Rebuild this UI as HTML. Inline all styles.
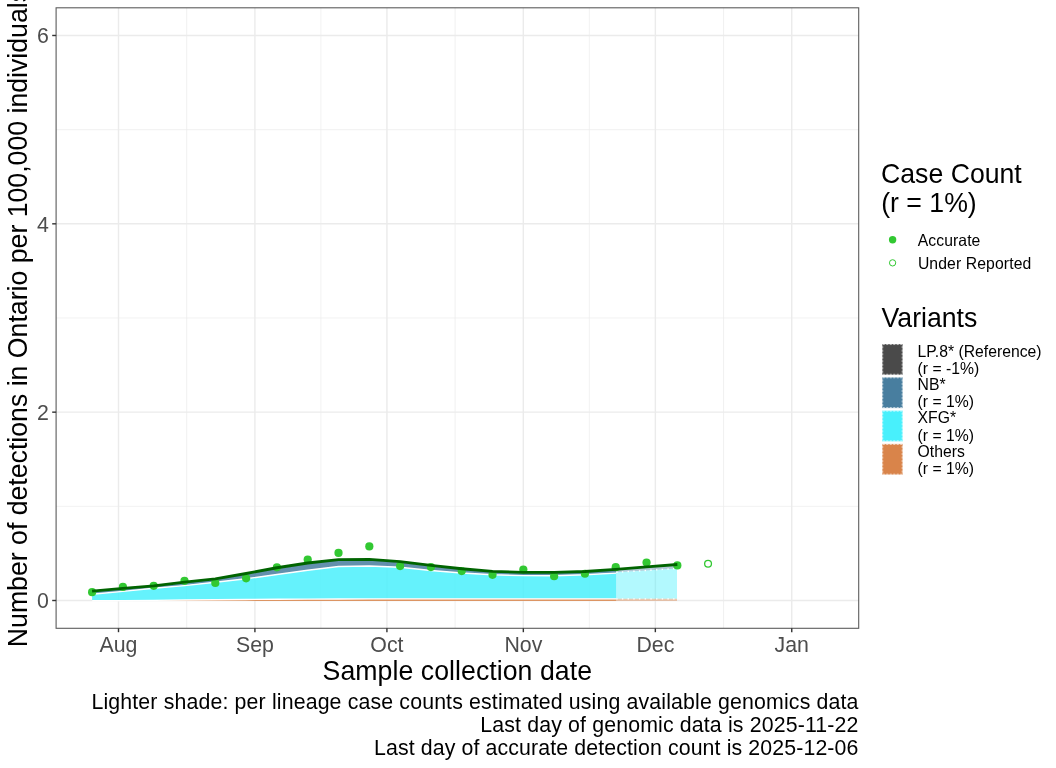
<!DOCTYPE html>
<html lang="en"><head><meta charset="utf-8"><title>Detections in Ontario</title>
<style>
html,body{margin:0;padding:0;background:#fff;}
body{width:1056px;height:768px;overflow:hidden;}
svg{display:block;font-family:"Liberation Sans", Arial, Helvetica, sans-serif;}
.ax{fill:#4d4d4d;font-size:21.33px;}
.ttl{fill:#000;font-size:26.67px;}
.cap{fill:#000;font-size:21.33px;}
.lt{fill:#000;font-size:15.75px;}
</style></head><body>
<svg width="1056" height="768" viewBox="0 0 1056 768">
<rect width="1056" height="768" fill="#fff"/>
<defs><clipPath id="pc"><rect x="56.1" y="7.8" width="802.6" height="620.5"/></clipPath>
<clipPath id="yc"><rect x="0" y="0" width="40" height="768"/></clipPath></defs>

<g clip-path="url(#pc)" fill="none">
<line x1="56.1" x2="858.7" y1="506.33" y2="506.33" stroke="#ebebeb" stroke-width="0.71"/>
<line x1="56.1" x2="858.7" y1="317.99" y2="317.99" stroke="#ebebeb" stroke-width="0.71"/>
<line x1="56.1" x2="858.7" y1="129.65" y2="129.65" stroke="#ebebeb" stroke-width="0.71"/>
<line y1="7.8" y2="628.3" x1="50.30" x2="50.30" stroke="#ebebeb" stroke-width="0.71"/>
<line y1="7.8" y2="628.3" x1="186.70" x2="186.70" stroke="#ebebeb" stroke-width="0.71"/>
<line y1="7.8" y2="628.3" x1="320.91" x2="320.91" stroke="#ebebeb" stroke-width="0.71"/>
<line y1="7.8" y2="628.3" x1="455.12" x2="455.12" stroke="#ebebeb" stroke-width="0.71"/>
<line y1="7.8" y2="628.3" x1="589.33" x2="589.33" stroke="#ebebeb" stroke-width="0.71"/>
<line y1="7.8" y2="628.3" x1="723.54" x2="723.54" stroke="#ebebeb" stroke-width="0.71"/>
<line y1="7.8" y2="628.3" x1="859.95" x2="859.95" stroke="#ebebeb" stroke-width="0.71"/>
<line x1="56.1" x2="858.7" y1="600.50" y2="600.50" stroke="#ebebeb" stroke-width="1.42"/>
<line x1="56.1" x2="858.7" y1="412.16" y2="412.16" stroke="#ebebeb" stroke-width="1.42"/>
<line x1="56.1" x2="858.7" y1="223.82" y2="223.82" stroke="#ebebeb" stroke-width="1.42"/>
<line x1="56.1" x2="858.7" y1="35.48" y2="35.48" stroke="#ebebeb" stroke-width="1.42"/>
<line y1="7.8" y2="628.3" x1="118.50" x2="118.50" stroke="#ebebeb" stroke-width="1.42"/>
<line y1="7.8" y2="628.3" x1="254.91" x2="254.91" stroke="#ebebeb" stroke-width="1.42"/>
<line y1="7.8" y2="628.3" x1="386.92" x2="386.92" stroke="#ebebeb" stroke-width="1.42"/>
<line y1="7.8" y2="628.3" x1="523.33" x2="523.33" stroke="#ebebeb" stroke-width="1.42"/>
<line y1="7.8" y2="628.3" x1="655.34" x2="655.34" stroke="#ebebeb" stroke-width="1.42"/>
<line y1="7.8" y2="628.3" x1="791.75" x2="791.75" stroke="#ebebeb" stroke-width="1.42"/>
</g>
<g clip-path="url(#pc)">
<path d="M92.10,591.06L122.90,588.40L153.70,585.80L184.50,582.10L215.31,578.90L246.11,573.50L276.91,567.75L307.71,563.00L338.51,559.60L369.32,559.30L400.12,561.70L430.92,565.40L461.72,568.75L492.53,571.30L523.33,572.30L554.13,572.40L584.93,571.50L616.20,569.30L616.20,573.10L584.93,574.80L554.13,575.70L523.33,575.60L492.53,574.80L461.72,573.00L430.92,570.50L400.12,567.30L369.32,566.00L338.51,566.50L307.71,570.20L276.91,574.50L246.11,578.75L215.31,582.30L184.50,585.60L153.70,588.30L122.90,591.40L92.10,594.20Z" fill="#457b9d" fill-opacity="0.84"/>
<path d="M92.10,591.06L122.90,588.40L153.70,585.80L184.50,582.10L215.31,578.90L246.11,573.50L276.91,567.75L307.71,563.00L338.51,559.60L369.32,559.30L400.12,561.70L430.92,565.40L461.72,568.75L492.53,571.30L523.33,572.30L554.13,572.40L584.93,571.50L616.20,569.30" fill="none" stroke="#fff" stroke-width="1.42"/>
<path d="M92.10,594.20L122.90,591.40L153.70,588.30L184.50,585.60L215.31,582.30L246.11,578.75L276.91,574.50L307.71,570.20L338.51,566.50L369.32,566.00L400.12,567.30L430.92,570.50L461.72,573.00L492.53,574.80L523.33,575.60L554.13,575.70L584.93,574.80L616.20,573.10L616.20,598.85L584.93,598.85L554.13,598.85L523.33,598.85L492.53,598.85L461.72,598.85L430.92,598.85L400.12,598.85L369.32,598.90L338.51,598.95L307.71,599.10L276.91,599.25L246.11,599.45L215.31,599.70L184.50,600.00L153.70,600.35L122.90,600.60L92.10,600.80Z" fill="#48f0fc" fill-opacity="0.84"/>
<path d="M92.10,594.20L122.90,591.40L153.70,588.30L184.50,585.60L215.31,582.30L246.11,578.75L276.91,574.50L307.71,570.20L338.51,566.50L369.32,566.00L400.12,567.30L430.92,570.50L461.72,573.00L492.53,574.80L523.33,575.60L554.13,575.70L584.93,574.80L616.20,573.10" fill="none" stroke="#fff" stroke-width="1.42"/>
<path d="M92.10,600.80L122.90,600.60L153.70,600.35L184.50,600.00L215.31,599.70L246.11,599.45L276.91,599.25L307.71,599.10L338.51,598.95L369.32,598.90L400.12,598.85L430.92,598.85L461.72,598.85L492.53,598.85L523.33,598.85L554.13,598.85L584.93,598.85L616.20,598.85L616.20,600.90L584.93,600.90L554.13,600.90L523.33,600.90L492.53,600.90L461.72,600.90L430.92,600.90L400.12,600.90L369.32,600.90L338.51,600.90L307.71,600.90L276.91,600.90L246.11,600.90L215.31,600.90L184.50,600.90L153.70,600.90L122.90,600.90L92.10,600.90Z" fill="#d9844a" fill-opacity="0.84"/>
<path d="M92.10,600.80L122.90,600.60L153.70,600.35L184.50,600.00L215.31,599.70L246.11,599.45L276.91,599.25L307.71,599.10L338.51,598.95L369.32,598.90L400.12,598.85L430.92,598.85L461.72,598.85L492.53,598.85L523.33,598.85L554.13,598.85L584.93,598.85L616.20,598.85" fill="none" stroke="#fff" stroke-width="1.42"/>
<path d="M616.20,569.30L646.54,566.80L677.00,564.50L677.00,568.50L646.54,570.50L616.20,572.30Z" fill="#457b9d" fill-opacity="0.42"/>
<path d="M616.20,569.30L646.54,566.80L677.00,564.50" fill="none" stroke="#fff" stroke-width="1.42" stroke-dasharray="1.42 4.27"/>
<path d="M616.20,572.30L646.54,570.50L677.00,568.50L677.00,598.85L646.54,598.85L616.20,598.85Z" fill="#48f0fc" fill-opacity="0.42"/>
<path d="M616.20,572.30L646.54,570.50L677.00,568.50" fill="none" stroke="#fff" stroke-width="1.42" stroke-dasharray="1.42 4.27"/>
<path d="M616.20,598.85L646.54,598.85L677.00,598.85L677.00,600.90L646.54,600.90L616.20,600.90Z" fill="#d9844a" fill-opacity="0.42"/>
<path d="M616.20,598.85L646.54,598.85L677.00,598.85" fill="none" stroke="#fff" stroke-width="1.42" stroke-dasharray="1.42 4.27"/>
</g>
<g fill="#32c832">
<circle cx="92.10" cy="592.20" r="4.1"/>
<circle cx="122.90" cy="586.90" r="4.1"/>
<circle cx="153.70" cy="585.80" r="4.1"/>
<circle cx="184.50" cy="580.85" r="4.1"/>
<circle cx="215.31" cy="582.90" r="4.1"/>
<circle cx="246.11" cy="578.30" r="4.1"/>
<circle cx="276.91" cy="567.30" r="4.1"/>
<circle cx="307.71" cy="559.50" r="4.1"/>
<circle cx="338.51" cy="552.95" r="4.1"/>
<circle cx="369.32" cy="546.45" r="4.1"/>
<circle cx="400.12" cy="566.05" r="4.1"/>
<circle cx="430.92" cy="567.10" r="4.1"/>
<circle cx="461.72" cy="571.10" r="4.1"/>
<circle cx="492.53" cy="574.80" r="4.1"/>
<circle cx="523.33" cy="569.60" r="4.1"/>
<circle cx="554.13" cy="576.25" r="4.1"/>
<circle cx="584.93" cy="573.75" r="4.1"/>
<circle cx="615.73" cy="567.15" r="4.1"/>
<circle cx="646.54" cy="562.50" r="4.1"/>
<circle cx="677.34" cy="565.40" r="4.1"/>
</g>
<circle cx="708.05" cy="563.8" r="3.4" fill="none" stroke="#32c832" stroke-width="1.3"/>
<path d="M92.10,591.06L122.90,588.40L153.70,585.80L184.50,582.10L215.31,578.90L246.11,573.50L276.91,567.75L307.71,563.00L338.51,559.60L369.32,559.30L400.12,561.70L430.92,565.40L461.72,568.75L492.53,571.30L523.33,572.30L554.13,572.40L584.93,571.50L615.73,569.30L646.54,566.80L677.34,564.50" fill="none" stroke="#006400" stroke-width="2.85" stroke-linejoin="round"/>
<rect x="56.1" y="7.8" width="802.60" height="620.50" fill="none" stroke="#333" stroke-width="1.1" stroke-opacity="0.8"/>
<g stroke="#333" stroke-width="1.42">
<line x1="118.50" x2="118.50" y1="628.3" y2="632.20"/>
<line x1="254.91" x2="254.91" y1="628.3" y2="632.20"/>
<line x1="386.92" x2="386.92" y1="628.3" y2="632.20"/>
<line x1="523.33" x2="523.33" y1="628.3" y2="632.20"/>
<line x1="655.34" x2="655.34" y1="628.3" y2="632.20"/>
<line x1="791.75" x2="791.75" y1="628.3" y2="632.20"/>
<line x1="52.20" x2="56.1" y1="600.50" y2="600.50"/>
<line x1="52.20" x2="56.1" y1="412.16" y2="412.16"/>
<line x1="52.20" x2="56.1" y1="223.82" y2="223.82"/>
<line x1="52.20" x2="56.1" y1="35.48" y2="35.48"/>
</g>
<text class="ax" transform="translate(118.50,651.6) scale(1,1.06)" text-anchor="middle">Aug</text>
<text class="ax" transform="translate(254.91,651.6) scale(1,1.06)" text-anchor="middle">Sep</text>
<text class="ax" transform="translate(386.92,651.6) scale(1,1.06)" text-anchor="middle">Oct</text>
<text class="ax" transform="translate(523.33,651.6) scale(1,1.06)" text-anchor="middle">Nov</text>
<text class="ax" transform="translate(655.34,651.6) scale(1,1.06)" text-anchor="middle">Dec</text>
<text class="ax" transform="translate(791.75,651.6) scale(1,1.06)" text-anchor="middle">Jan</text>
<text class="ax" transform="translate(48.9,608.40) scale(1,1.06)" text-anchor="end">0</text>
<text class="ax" transform="translate(48.9,420.06) scale(1,1.06)" text-anchor="end">2</text>
<text class="ax" transform="translate(48.9,231.72) scale(1,1.06)" text-anchor="end">4</text>
<text class="ax" transform="translate(48.9,43.38) scale(1,1.06)" text-anchor="end">6</text>
<text class="ttl" transform="translate(457.3,679.7) scale(1,1.06)" text-anchor="middle" textLength="269.5" lengthAdjust="spacing">Sample collection date</text>
<g clip-path="url(#yc)"><text class="ttl" transform="translate(27.2,318.1) rotate(-90) scale(1,1.06)" text-anchor="middle" textLength="658.2" lengthAdjust="spacing">Number of detections in Ontario per 100,000 individuals</text></g>
<text class="cap" transform="translate(858.4,709.0) scale(1,1.06)" text-anchor="end" textLength="767.0" lengthAdjust="spacing">Lighter shade: per lineage case counts estimated using available genomics data</text>
<text class="cap" transform="translate(858.4,732.4) scale(1,1.06)" text-anchor="end" textLength="378.1" lengthAdjust="spacing">Last day of genomic data is 2025-11-22</text>
<text class="cap" transform="translate(858.4,755.4) scale(1,1.06)" text-anchor="end" textLength="484.4" lengthAdjust="spacing">Last day of accurate detection count is 2025-12-06</text>
<text class="ttl" transform="translate(881.0,183.2) scale(1,1.06)">Case Count</text>
<text class="ttl" transform="translate(881.2,212.1) scale(1,1.06)">(r = 1%)</text>
<circle cx="892.6" cy="239.8" r="3.7" fill="#32c832"/>
<circle cx="892.6" cy="262.85" r="3.15" fill="none" stroke="#32c832" stroke-width="1.0"/>
<text class="lt" transform="translate(917.7,245.7) scale(1,1.06)" textLength="62.7" lengthAdjust="spacing">Accurate</text>
<text class="lt" transform="translate(917.9,268.6) scale(1,1.06)" textLength="113.4" lengthAdjust="spacing">Under Reported</text>
<text class="ttl" transform="translate(881.5,326.5) scale(1,1.06)">Variants</text>
<rect x="882.2" y="344.00" width="20.5" height="30.8" fill="#4a4a4a" fill-opacity="0.8"/>
<rect x="882.9" y="344.70" width="19.1" height="29.4" fill="#4a4a4a"/>
<rect x="882.75" y="344.55" width="19.4" height="29.7" fill="none" stroke="#fff" stroke-width="0.6" stroke-dasharray="2 1.5"/>
<text class="lt" transform="translate(917.6,356.6) scale(1,1.06)">LP.8* (Reference)</text>
<text class="lt" transform="translate(917.6,374.1) scale(1,1.06)">(r = -1%)</text>
<rect x="882.2" y="377.30" width="20.5" height="30.8" fill="#487e9f" fill-opacity="0.8"/>
<rect x="882.9" y="378.00" width="19.1" height="29.4" fill="#487e9f"/>
<rect x="882.75" y="377.85" width="19.4" height="29.7" fill="none" stroke="#fff" stroke-width="0.6" stroke-dasharray="2 1.5"/>
<text class="lt" transform="translate(917.6,389.9) scale(1,1.06)">NB*</text>
<text class="lt" transform="translate(917.6,407.4) scale(1,1.06)">(r = 1%)</text>
<rect x="882.2" y="410.60" width="20.5" height="30.8" fill="#48f0fc" fill-opacity="0.8"/>
<rect x="882.9" y="411.30" width="19.1" height="29.4" fill="#48f0fc"/>
<rect x="882.75" y="411.15" width="19.4" height="29.7" fill="none" stroke="#fff" stroke-width="0.6" stroke-dasharray="2 1.5"/>
<text class="lt" transform="translate(917.6,423.2) scale(1,1.06)">XFG*</text>
<text class="lt" transform="translate(917.6,440.7) scale(1,1.06)">(r = 1%)</text>
<rect x="882.2" y="443.90" width="20.5" height="30.8" fill="#d9844a" fill-opacity="0.8"/>
<rect x="882.9" y="444.60" width="19.1" height="29.4" fill="#d9844a"/>
<rect x="882.75" y="444.45" width="19.4" height="29.7" fill="none" stroke="#fff" stroke-width="0.6" stroke-dasharray="2 1.5"/>
<text class="lt" transform="translate(917.6,456.5) scale(1,1.06)">Others</text>
<text class="lt" transform="translate(917.6,474.0) scale(1,1.06)">(r = 1%)</text>
</svg></body></html>
